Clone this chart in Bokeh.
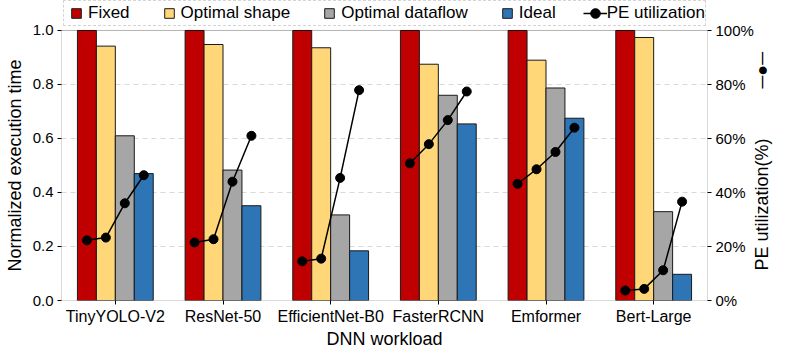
import math
from bokeh.plotting import figure
from bokeh.models import (Range1d, LinearAxis, FixedTicker, NumeralTickFormatter,
                          PrintfTickFormatter, Legend, LegendItem, BoxAnnotation)
from bokeh.embed import file_html
from bokeh.resources import INLINE

# ---------------- data ----------------
models = ["TinyYOLO-V2", "ResNet-50", "EfficientNet-B0", "FasterRCNN", "Emformer", "Bert-Large"]
fixed = [1.0, 1.0, 1.0, 1.0, 1.0, 1.0]
opt_shape = [0.942, 0.948, 0.936, 0.875, 0.890, 0.974]
opt_dataflow = [0.610, 0.483, 0.317, 0.760, 0.787, 0.329]
ideal = [0.470, 0.351, 0.184, 0.654, 0.675, 0.097]

pe_fixed = [22.3, 21.5, 14.5, 50.8, 43.2, 3.7]
pe_shape = [23.3, 22.7, 15.5, 57.9, 48.6, 4.3]
pe_dataflow = [36.0, 44.0, 45.4, 66.8, 55.0, 11.2]
pe_ideal = [46.4, 61.0, 77.9, 77.4, 64.0, 36.6]

series_names = ["Fixed", "Optimal shape", "Optimal dataflow", "Ideal"]
colors = ["#C00000", "#FFD678", "#A6A6A6", "#2E75B6"]
y_ticks = [0.0, 0.2, 0.4, 0.6, 0.8, 1.0]
pe_ticks = [0, 20, 40, 60, 80, 100]

FONT = "Liberation Sans"
FRAME_H = 300
YTOP = 1.111         # headroom above 1.0 that holds the legend
NAN = float("nan")
LEG_H = 24

p = figure(frame_width=646, frame_height=FRAME_H,
           min_border_left=61, min_border_right=73, min_border_top=0, min_border_bottom=46,
           x_range=Range1d(0, len(models)), y_range=Range1d(0, YTOP),
           output_backend="svg", toolbar_location=None)
p.extra_y_ranges = {"pe": Range1d(0, 100 * YTOP)}

centers = [i + 0.5 for i in range(len(models))]
bw = 0.176
offsets = [-1.5 * bw, -0.5 * bw, 0.5 * bw, 1.5 * bw]

bar_series = [fixed, opt_shape, opt_dataflow, ideal]
for vals, col, off in zip(bar_series, colors, offsets):
    p.vbar(x=[c + off for c in centers], top=vals, bottom=0, width=bw,
           fill_color=col, line_color="#1a1a1a", line_width=1)

pe_series = [pe_fixed, pe_shape, pe_dataflow, pe_ideal]
line_xs = [[c + o for o in offsets] for c in centers]
line_ys = [[s[i] for s in pe_series] for i in range(len(models))]
line_r = p.multi_line(xs=line_xs, ys=line_ys, line_color="black", line_width=1.5,
                      y_range_name="pe")
pt_x = [x for xs in line_xs for x in xs]
pt_y = [y for ys in line_ys for y in ys]
pt_r = p.scatter(x=pt_x, y=pt_y, marker="circle", size=9, fill_color="black",
                 line_color="black", y_range_name="pe")

# plot box from 0 to 1.0
p.add_layout(BoxAnnotation(left=0, right=len(models), bottom=0, top=1.0,
                           fill_alpha=0, line_color="black", line_width=1))

# legend proxies (not drawn: NaN position)
legend_items = []
for name, col in zip(series_names, colors):
    r = p.scatter(x=[NAN], y=[NAN], marker="square", size=10, fill_color=col,
                  line_color="#1a1a1a")
    legend_items.append(LegendItem(label=name, renderers=[r]))
legend_items.append(LegendItem(label="PE utilization", renderers=[line_r, pt_r]))

legend = Legend(items=legend_items, orientation="horizontal", location=(2, FRAME_H - 2 - LEG_H),
                glyph_width=LEG_H, glyph_height=LEG_H, label_height=18, label_standoff=0,
                spacing=27, padding=0, margin=0,
                border_line_color="#aaaaaa", border_line_dash="4 3",
                border_line_width=1, background_fill_alpha=0,
                label_text_font=FONT, label_text_font_size="17px", label_text_color="black")
p.add_layout(legend)

# grid
p.xgrid.visible = False
p.ygrid.ticker = FixedTicker(ticks=[0.2, 0.4, 0.6, 0.8])
p.ygrid.grid_line_color = "#d9d9d9"
p.ygrid.grid_line_dash = "5 4"
p.ygrid.grid_line_width = 1

p.outline_line_color = None
p.background_fill_color = "white"

# left axis
ly = p.yaxis[0]
ly.ticker = FixedTicker(ticks=y_ticks)
ly.formatter = NumeralTickFormatter(format="0.0")
ly.axis_label = "Normalized execution time" + "\u00a0" * 6

# right axis
ry = LinearAxis(y_range_name="pe", ticker=FixedTicker(ticks=pe_ticks),
                formatter=PrintfTickFormatter(format="%d%%"))
p.add_layout(ry, "right")
ry.axis_label_orientation = math.pi / 2
if "axis_label_align" in ry.properties():
    ry.axis_label_align = "start"
    ry.axis_label = "\u00a0" * 6 + "PE utilization(%)" + "\u00a0" * 10 + "\u2500\u25cf\u2500"
else:
    ry.axis_label = "PE utilization(%)" + "\u00a0" * 6 + "\u2500\u25cf\u2500"

# x axis
xa = p.xaxis[0]
xa.ticker = FixedTicker(ticks=centers)
xa.major_label_overrides = {c: m for c, m in zip(centers, models)}
xa.axis_label = "DNN workload"

for ax in [ly, ry, xa]:
    ax.axis_line_color = None
    ax.major_tick_line_color = "black"
    ax.major_tick_out = 4
    ax.major_tick_in = 0
    ax.minor_tick_line_color = None
    ax.major_label_text_font = FONT
    ax.major_label_text_color = "black"
    ax.major_label_standoff = 4
    ax.axis_label_text_font = FONT
    ax.axis_label_text_font_style = "normal"
    ax.axis_label_text_font_size = "18px"
    ax.axis_label_text_color = "black"
    ax.axis_label_standoff = 5
ly.major_label_text_font_size = "15px"
ry.major_label_text_font_size = "15px"
xa.major_label_text_font_size = "16px"
xa.major_label_standoff = 3
xa.axis_label_standoff = 1

open("out.html", "w").write(file_html(p, INLINE))
